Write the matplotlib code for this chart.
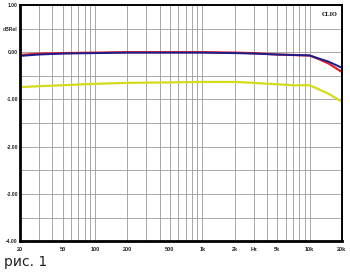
import matplotlib.pyplot as plt
import matplotlib.ticker as mticker

freq = [20, 30, 50, 100, 200, 500, 1000, 2000, 3000, 5000, 7000, 10000, 12000, 15000, 20000]
red = [-0.06, -0.03, -0.02, -0.01, 0.0, 0.0, 0.0, -0.01, -0.02, -0.05, -0.06, -0.07, -0.14, -0.24, -0.42]
blue = [-0.08, -0.05, -0.03, -0.02, -0.01, -0.01, -0.01, -0.02, -0.03, -0.05, -0.06, -0.07, -0.13, -0.2, -0.33]
yellow = [-0.74, -0.72, -0.70, -0.67, -0.65, -0.64, -0.63, -0.63, -0.65, -0.68, -0.70, -0.70, -0.78, -0.88, -1.05]

xticks = [20, 50, 100, 200, 500, 1000, 2000, 3000, 5000, 10000, 20000]
xlabels = ['20', '50', '100', '200', '500', '1k', '2k', 'Hz', '5k', '10k', '20k']
yticks = [1, 0.5, 0, -1, -2, -3, -4]
ylabels = ['1.00', 'dBRel', '0.00', '-1.00', '-2.00', '-3.00', '-4.00']

fig = plt.figure(figsize=(3.5, 2.74), dpi=100)
ax = fig.add_axes([0.057, 0.12, 0.92, 0.862])

ax.plot(freq, yellow, color='#d4dc1c', linewidth=1.6)
ax.plot(freq, red, color='#e0202a', linewidth=1.6)
ax.plot(freq, blue, color='#1c1c8c', linewidth=1.4)

ax.set_xscale('log')
ax.set_xlim(20, 20000)
ax.set_ylim(-4, 1)

ax.xaxis.set_major_locator(mticker.FixedLocator(xticks))
ax.xaxis.set_major_formatter(mticker.FixedFormatter(xlabels))
ax.xaxis.set_minor_locator(mticker.LogLocator(base=10, subs=range(1, 10)))
ax.xaxis.set_minor_formatter(mticker.NullFormatter())
ax.yaxis.set_major_locator(mticker.FixedLocator(yticks))
ax.yaxis.set_major_formatter(mticker.FixedFormatter(ylabels))
ax.yaxis.set_minor_locator(mticker.MultipleLocator(0.5))

ax.grid(True, which='both', color='#9a9a9a', linewidth=0.6)
ax.set_axisbelow(True)
ax.tick_params(axis='x', which='both', length=0, labelsize=4, pad=4)
ax.tick_params(axis='y', which='both', length=0, labelsize=3.6, pad=1.5)
for lab in ax.get_xticklabels() + ax.get_yticklabels():
    lab.set_fontweight('bold')
    lab.set_color('#222222')
    lab.set_family('Liberation Sans')

for side in ['left', 'bottom']:
    ax.spines[side].set_linewidth(2)
for side in ['top', 'right']:
    ax.spines[side].set_linewidth(1.4)

ax.text(0.985, 0.97, 'CLIO', transform=ax.transAxes, ha='right', va='top',
        fontsize=4.5, fontweight='bold', family='Liberation Serif')
fig.text(0.01, 0.045, 'рис. 1', fontsize=10, color='#222222', va='center')

fig.savefig('out.png', dpi=100)
